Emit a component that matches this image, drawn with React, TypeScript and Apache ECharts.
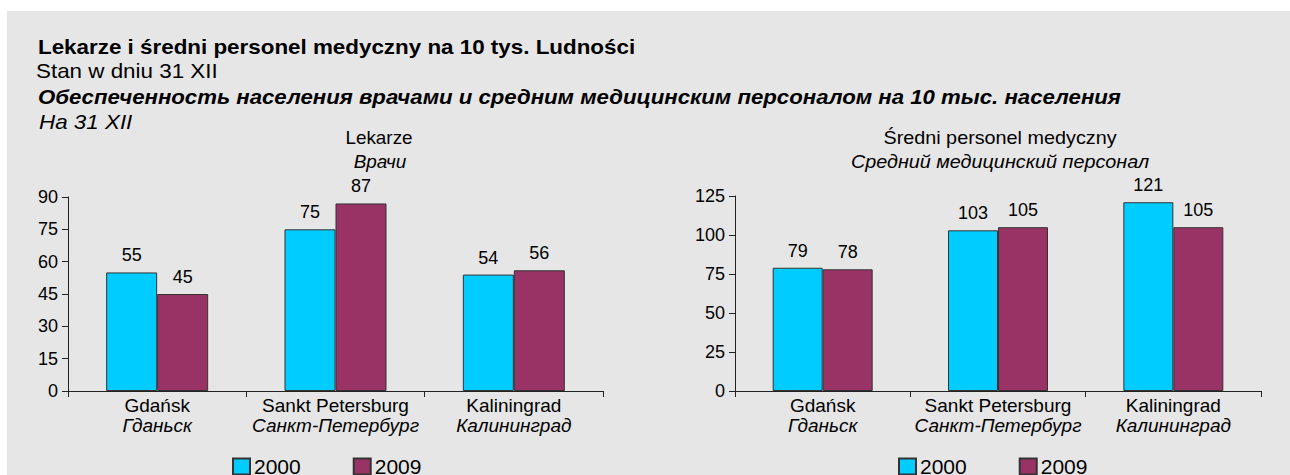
import React, { useEffect, useRef } from "react";
import * as echarts from "echarts";

const categoriesPl = ["Gdańsk", "Sankt Petersburg", "Kaliningrad"];
const categoriesRu = ["Гданьск", "Санкт-Петербург", "Калининград"];
const seriesNames = ["2000", "2009"];
const doctors2000 = [55, 75, 54];
const doctors2009 = [45, 87, 56];
const staff2000 = [79, 103, 121];
const staff2009 = [78, 105, 105];
const doctorsTicks = { min: 0, max: 90, interval: 15 };
const staffTicks = { min: 0, max: 125, interval: 25 };

const FONT = "'Liberation Sans', Arial, sans-serif";
const COLORS = ["#00CCFF", "#993366"];

export default function App() {
  const ref = useRef<HTMLDivElement>(null);
  useEffect(() => {
    if (!ref.current) return;
    const chart = echarts.init(ref.current, undefined, { renderer: "svg" });
    const catLabel = {
      interval: 0,
      margin: 4,
      formatter: (v: string, i: number) => `{a|${v}}\n{b|${categoriesRu[i]}}`,
      rich: {
        a: { fontSize: 19, color: "#000", fontFamily: FONT, lineHeight: 20 },
        b: { fontSize: 19, color: "#000", fontFamily: FONT, fontStyle: "italic", lineHeight: 20 },
      },
    };
    const xAxisBase = (gi: number) => ({
      type: "category",
      gridIndex: gi,
      data: categoriesPl,
      axisLine: { lineStyle: { color: "#222", width: 1 } },
      axisTick: { show: true, length: 6, lineStyle: { color: "#222" } },
      axisLabel: catLabel,
    });
    const yAxisBase = (gi: number, t: any) => ({
      type: "value",
      gridIndex: gi,
      min: t.min,
      max: t.max,
      interval: t.interval,
      splitLine: { show: false },
      axisLine: { show: true, lineStyle: { color: "#222", width: 1 } },
      axisTick: { show: true, length: 6, lineStyle: { color: "#222" } },
      axisLabel: { fontSize: 18, color: "#000", fontFamily: FONT, margin: 10 },
    });
    const label = {
      show: true,
      position: "top",
      distance: 8,
      fontSize: 18,
      color: "#000",
      fontFamily: FONT,
    };
    const bar = (name: string, data: number[], gi: number, ci: number, bw: number) => ({
      type: "bar",
      name,
      xAxisIndex: gi,
      yAxisIndex: gi,
      data,
      barWidth: bw,
      barGap: "0%",
      itemStyle: { color: COLORS[ci], borderColor: "#333", borderWidth: 1 },
      label,
    });
    const txt = (text: string, x: number, y: number, font: string, sx: number, align = "left") => ({
      type: "text",
      x,
      y,
      scaleX: sx,
      style: { text, x: 0, y: 0, font, fill: "#000", textAlign: align, textVerticalAlign: "middle" },
    });
    const legendBase = (left: number) => ({
      left,
      top: 456,
      padding: 0,
      itemWidth: 17,
      itemHeight: 16,
      itemGap: 52,
      icon: "rect",
      data: seriesNames,
      textStyle: { fontSize: 21, color: "#000", fontFamily: FONT, padding: [0, 0, 0, -1] },
    });
    chart.setOption({
      animation: false,
      backgroundColor: "#ffffff",
      grid: [
        { left: 68, top: 197, width: 535, height: 194 },
        { left: 735, top: 196, width: 526, height: 195 },
      ],
      xAxis: [xAxisBase(0), xAxisBase(1)],
      yAxis: [yAxisBase(0, doctorsTicks), yAxisBase(1, staffTicks)],
      legend: [legendBase(232), legendBase(898)],
      series: [
        bar(seriesNames[0], doctors2000, 0, 0, 51),
        bar(seriesNames[1], doctors2009, 0, 1, 51),
        bar(seriesNames[0], staff2000, 1, 0, 50),
        bar(seriesNames[1], staff2009, 1, 1, 50),
      ],
      graphic: [
        { type: "rect", z: -10, shape: { x: 7, y: 11, width: 1283, height: 464 }, style: { fill: "#e6e6e6" } },
        txt("Lekarze i średni personel medyczny na 10 tys. Ludności", 38, 47, `bold 20px ${FONT}`, 1.12),
        txt("Stan w dniu 31 XII", 36, 71, `20px ${FONT}`, 1.12),
        txt(
          "Обеспеченность населения врачами и средним медицинским персоналом на 10 тыс. населения",
          38,
          97,
          `italic bold 20px ${FONT}`,
          1.11
        ),
        txt("На 31 XII", 39, 122, `italic 20px ${FONT}`, 1.12),
        txt("Lekarze", 379, 138, `18px ${FONT}`, 1.05, "center"),
        txt("Врачи", 380, 162, `italic 18px ${FONT}`, 1.05, "center"),
        txt("Średni personel medyczny", 1000, 138, `18px ${FONT}`, 1.1, "center"),
        txt("Средний медицинский персонал", 1000, 162, `italic 18px ${FONT}`, 1.1, "center"),
      ],
    });
    return () => chart.dispose();
  }, []);
  return <div ref={ref} style={{ position: "absolute", left: 0, top: 0, width: 1290, height: 475 }} />;
}
